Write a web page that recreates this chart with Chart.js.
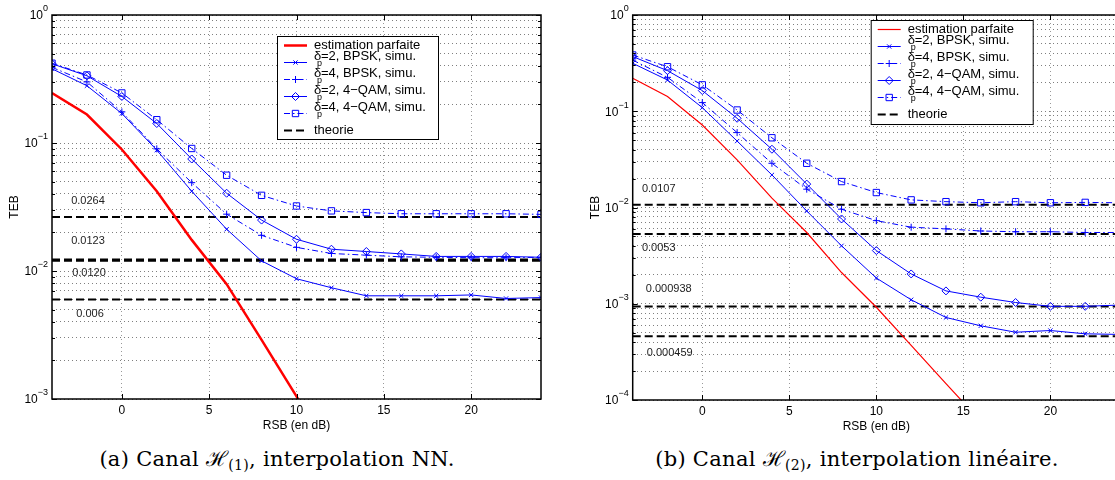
<!DOCTYPE html>
<html>
<head>
<meta charset="utf-8">
<script src="https://cdn.jsdelivr.net/npm/chart.js@4.4.1/dist/chart.umd.min.js"></script>
<style>
html, body { margin: 0; padding: 0; background: #fff; }
#wrap { position: relative; width: 1115px; height: 480px; overflow: hidden; }
.pane { position: absolute; top: 0; }
.cap { position: absolute; top: 449px; font-family: "DejaVu Serif", serif; font-size: 21px; line-height: 21px; letter-spacing: 0.3px; color: #000; white-space: nowrap; transform: translateX(-50%); }
.cap sub { font-size: 14px; vertical-align: -4px; line-height: 0; }
</style>
</head>
<body>
<div id="wrap">
  <canvas id="chartA" class="pane" style="left:0" width="560" height="440"></canvas>
  <canvas id="chartB" class="pane" style="left:560px" width="580" height="440"></canvas>
  <div class="cap" style="left:277px">(a) Canal ℋ<sub>(1)</sub>, interpolation NN.</div>
  <div class="cap" style="left:857px">(b) Canal ℋ<sub>(2)</sub>, interpolation linéaire.</div>
</div>
<script>
// ---------- data ----------
const snr = [-4, -2, 0, 2, 4, 6, 8, 10, 12, 14, 16, 18, 20, 22, 24];
const xTicks = [0, 5, 10, 15, 20];
const legendLabels = ['estimation parfaite', 'δp=2, BPSK, simu.', 'δp=4, BPSK, simu.',
                      'δp=2, 4−QAM, simu.', 'δp=4, 4−QAM, simu.', 'theorie'];

// (a) canal H(1), interpolation NN
const parfaitA = [0.246, 0.167, 0.089, 0.042, 0.0175, 0.0079, 0.0029, 0.00105, 0.00035];
const bpsk2A = [0.38, 0.28, 0.17, 0.088, 0.042, 0.0212, 0.012, 0.0087, 0.0074, 0.0064, 0.0064, 0.0064, 0.0065, 0.0061, 0.0062];
const bpsk4A = [0.39, 0.30, 0.175, 0.09, 0.049, 0.0278, 0.019, 0.0153, 0.0137, 0.0133, 0.0129, 0.0128, 0.0127, 0.0127, 0.0128];
const qam2A = [0.416, 0.335, 0.231, 0.142, 0.075, 0.0405, 0.025, 0.0177, 0.0148, 0.0142, 0.0136, 0.013, 0.013, 0.013, 0.0128];
const qam4A = [0.42, 0.34, 0.246, 0.152, 0.0906, 0.056, 0.039, 0.0322, 0.0295, 0.0286, 0.028, 0.028, 0.028, 0.028, 0.0277];
const theorieA = [0.0264, 0.0123, 0.0120, 0.006];
const theorieTextA = ['0.0264', '0.0123', '0.0120', '0.006'];

// (b) canal H(2), interpolation lineaire
const parfaitB = [0.22, 0.142, 0.072, 0.0312, 0.0125, 0.0055, 0.00211, 0.00092, 0.00037, 0.000148, 0.00006];
const bpsk2B = [0.315, 0.211, 0.109, 0.049, 0.0218, 0.0092, 0.004, 0.00185, 0.0011, 0.00072, 0.00059, 0.000506, 0.000527, 0.000487, 0.00048];
const bpsk4B = [0.34, 0.225, 0.123, 0.06, 0.0288, 0.0155, 0.0096, 0.0073, 0.00624, 0.006, 0.0057, 0.0056, 0.0056, 0.0055, 0.0055];
const qam2B = [0.37, 0.264, 0.164, 0.0845, 0.0403, 0.0175, 0.0076, 0.00357, 0.00204, 0.00136, 0.00117, 0.00103, 0.00094, 0.00094, 0.00097];
const qam4B = [0.384, 0.29, 0.188, 0.103, 0.053, 0.0288, 0.0186, 0.0143, 0.012, 0.0115, 0.0112, 0.0115, 0.0112, 0.0113, 0.0112];
const theorieB = [0.0107, 0.0053, 0.000938, 0.000459];
const theorieTextB = ['0.0107', '0.0053', '0.000938', '0.000459'];

const FONT = '"Liberation Sans", Arial, sans-serif';
const BLUE = 'rgb(0,0,255)';
const RED = 'rgb(255,0,0)';
const dashDot = [6, 3, 1.5, 3];

const pts = arr => arr.map((v, i) => ({ x: snr[i], y: v }));

function curve(label, arr, style, radius, dash) {
    return {
        label, data: pts(arr), inLegend: true,
        borderColor: BLUE, borderWidth: 1, borderDash: dash,
        pointStyle: style, pointRadius: radius, pointBorderWidth: 1,
        pointBorderColor: BLUE, pointBackgroundColor: 'rgba(255,255,255,0)'
    };
}

function buildDatasets(parfait, redWidth, b2, b4, q2, q4, theorie) {
    const ds = [
        { label: legendLabels[0], data: pts(parfait), inLegend: true, borderColor: RED, borderWidth: redWidth, pointRadius: 0 },
        curve(legendLabels[1], b2, 'crossRot', 3, []),
        curve(legendLabels[2], b4, 'cross', 3.5, dashDot),
        curve(legendLabels[3], q2, 'rectRot', 4, []),
        curve(legendLabels[4], q4, 'rect', 4.5, dashDot)
    ];
    theorie.forEach((v, i) => ds.push({
        label: legendLabels[5], inLegend: i === 0,
        data: [{ x: snr[0], y: v }, { x: snr[snr.length - 1], y: v }],
        borderColor: '#000', borderWidth: 2, borderDash: [8, 4], pointRadius: 0
    }));
    return ds;
}

// ---------- drawing helpers (plugin) ----------
const matlabAxes = {
    id: 'matlabAxes',
    afterDatasetsDraw(chart, args, o) {
        const { ctx, chartArea: a, scales: { y } } = chart;
        ctx.save();
        ctx.setLineDash([]);

        // labels of theory lines
        ctx.fillStyle = '#222';
        ctx.font = '11px ' + FONT;
        ctx.textAlign = 'center';
        ctx.textBaseline = 'middle';
        o.theorie.forEach((v, i) => {
            ctx.fillText(o.theorieText[i], a.left + o.labelDx[i], y.getPixelForValue(v) + o.labelDy[i]);
        });

        // legend
        const bx = a.left + o.legend.dx, by = a.top + o.legend.dy;
        ctx.fillStyle = '#fff';
        ctx.fillRect(bx, by, o.legend.w, o.legend.h);
        ctx.strokeStyle = '#000';
        ctx.lineWidth = 1;
        ctx.strokeRect(bx + 0.5, by + 0.5, o.legend.w, o.legend.h);
        chart.data.datasets.filter(d => d.inLegend).forEach((d, i) => {
            const ry = by + 9.5 + 17 * i;
            ctx.strokeStyle = d.borderColor;
            ctx.lineWidth = d.borderWidth;
            ctx.setLineDash(d.borderDash || []);
            ctx.beginPath();
            ctx.moveTo(bx + 7, ry);
            ctx.lineTo(bx + 30, ry);
            ctx.stroke();
            ctx.setLineDash([]);
            if (d.pointRadius > 0) {
                ctx.strokeStyle = d.pointBorderColor;
                ctx.lineWidth = 1;
                ctx.fillStyle = 'rgba(255,255,255,0)';
                Chart.helpers.drawPoint(ctx, { pointStyle: d.pointStyle, radius: d.pointRadius, borderWidth: 1, rotation: 0 }, bx + 18.5, ry);
            }
            ctx.fillStyle = '#000';
            ctx.textAlign = 'left';
            const tx = bx + 37;
            if (d.label.startsWith('δp')) {
                ctx.font = '13px ' + FONT;
                ctx.fillText('δ', tx, ry - 6);
                ctx.font = '9px ' + FONT;
                ctx.fillText('p', tx + 3, ry + 1);
                ctx.font = '13px ' + FONT;
                ctx.fillText(d.label.slice(2), tx + 7, ry - 6);
            } else {
                ctx.font = '13px ' + FONT;
                ctx.fillText(d.label, tx, ry);
            }
        });
        ctx.restore();
    },
    afterDraw(chart) {
        const { ctx, chartArea: a, scales: { x, y } } = chart;
        ctx.save();
        ctx.setLineDash([]);
        ctx.strokeStyle = '#000';
        ctx.lineWidth = 1;
        ctx.beginPath();
        x.ticks.forEach(t => {
            const px = Math.round(x.getPixelForValue(t.value)) + 0.5;
            ctx.moveTo(px, a.bottom); ctx.lineTo(px, a.bottom - 5);
            ctx.moveTo(px, a.top); ctx.lineTo(px, a.top + 5);
        });
        y.ticks.forEach(t => {
            const py = Math.round(y.getPixelForValue(t.value)) + 0.5;
            const len = t.major ? 5 : 3;
            ctx.moveTo(a.left, py); ctx.lineTo(a.left + len, py);
            ctx.moveTo(a.right, py); ctx.lineTo(a.right - len, py);
        });
        ctx.stroke();
        ctx.lineWidth = 1.5;
        ctx.strokeRect(a.left, a.top, a.right - a.left, a.bottom - a.top);

        // tick labels
        ctx.fillStyle = '#000';
        ctx.textBaseline = 'middle';
        ctx.textAlign = 'center';
        ctx.font = '12px ' + FONT;
        x.ticks.forEach(t => ctx.fillText(String(t.value), x.getPixelForValue(t.value), a.bottom + 12));
        ctx.fillText('RSB (en dB)', (a.left + a.right) / 2, a.bottom + 27);

        ctx.textAlign = 'left';
        y.ticks.filter(t => t.major).forEach(t => {
            const py = y.getPixelForValue(t.value);
            const e = Math.round(Math.log10(t.value));
            const sup = e === 0 ? '0' : '\u2212' + (-e);
            ctx.font = '9px ' + FONT;
            const ws = ctx.measureText(sup).width;
            ctx.font = '12px ' + FONT;
            const wb = ctx.measureText('10').width;
            const right = a.left - 4;
            ctx.fillText('10', right - ws - wb, py + 1);
            ctx.font = '9px ' + FONT;
            ctx.fillText(sup, right - ws, py - 6);
        });

        ctx.translate(a.left - 37, (a.top + a.bottom) / 2);
        ctx.rotate(-Math.PI / 2);
        ctx.textAlign = 'center';
        ctx.font = '12px ' + FONT;
        ctx.fillText('TEB', 0, 0);
        ctx.restore();
    }
};

function logTicks(scale) {
    const lo = Math.round(Math.log10(scale.min));
    const hi = Math.round(Math.log10(scale.max));
    const t = [];
    for (let e = lo; e < hi; e++) {
        for (let m = 1; m <= 9; m++) t.push({ value: m * Math.pow(10, e), major: m === 1 });
    }
    t.push({ value: Math.pow(10, hi), major: true });
    scale.ticks = t;
}

function makeChart(id, datasets, yMin, padding, extra) {
    return new Chart(document.getElementById(id), {
        type: 'line',
        data: { datasets },
        plugins: [matlabAxes],
        options: {
            responsive: false,
            animation: false,
            layout: { padding },
            elements: { line: { tension: 0 } },
            plugins: {
                legend: { display: false },
                tooltip: { enabled: false },
                matlabAxes: extra
            },
            scales: {
                x: {
                    type: 'linear', min: -4, max: 24,
                    afterBuildTicks: s => { s.ticks = xTicks.map(v => ({ value: v })); },
                    ticks: { display: false },
                    grid: { color: 'rgba(0,0,0,0.4)', lineWidth: 1, drawTicks: false },
                    border: { display: false, dash: [1, 3] }
                },
                y: {
                    type: 'logarithmic', min: yMin, max: 1,
                    afterBuildTicks: logTicks,
                    ticks: { display: false },
                    grid: { color: 'rgba(0,0,0,0.5)', lineWidth: 1, drawTicks: false },
                    border: { display: false, dash: [1, 3] }
                }
            }
        }
    });
}

makeChart('chartA', buildDatasets(parfaitA, 2.5, bpsk2A, bpsk4A, qam2A, qam4A, theorieA), 1e-3,
    { left: 52, top: 15, right: 19, bottom: 41 },
    {
        theorie: theorieA, theorieText: theorieTextA,
        labelDx: [36, 36, 37, 38], labelDy: [-16.5, -19, 12.5, 15],
        legend: { dx: 225, dy: 21, w: 161, h: 103 }
    });

makeChart('chartB', buildDatasets(parfaitB, 1.2, bpsk2B, bpsk4B, qam2B, qam4B, theorieB), 1e-4,
    { left: 72.7, top: 15, right: 20, bottom: 40 },
    {
        theorie: theorieB, theorieText: theorieTextB,
        labelDx: [26, 26, 36, 37], labelDy: [-15.5, 14, -17.5, 16.5],
        legend: { dx: 238, dy: 5, w: 162, h: 104 }
    });
</script>
</body>
</html>
